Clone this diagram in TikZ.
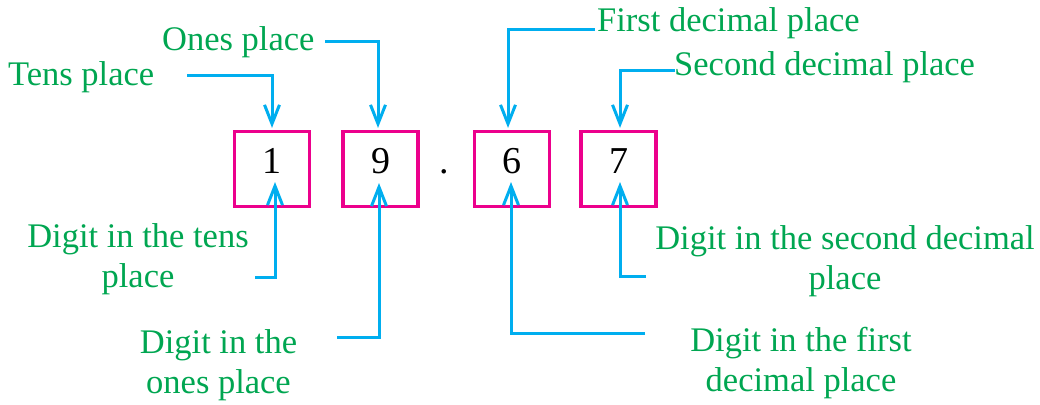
\documentclass[tikz,border=0pt]{standalone}
\usepackage{fontspec}
\setmainfont{Liberation Serif}
\usetikzlibrary{arrows.meta}
\definecolor{lblgreen}{RGB}{0,166,81}
\definecolor{arrcyan}{RGB}{0,174,239}
\definecolor{boxmag}{RGB}{236,0,140}
\begin{document}
\begin{tikzpicture}[x=1pt,y=-1pt,
  lbl/.style={text=lblgreen, font=\fontsize{34.5}{40}\selectfont, inner sep=0pt},
  digitbox/.style={draw=boxmag, line width=3.2pt, minimum width=75pt, minimum height=75pt,
    font=\fontsize{38}{40}\selectfont, text height=27pt, text depth=19pt, inner sep=0pt},
  arr/.style={draw=arrcyan, line width=3pt, -{Straight Barb[length=19pt,width=15pt]}}]
\useasboundingbox (0,0) rectangle (1040,404);

% boxes
\node[digitbox] (b1) at (272,169) {1};
\node[digitbox] (b2) at (380.5,169) {9};
\node[digitbox] (b3) at (512,169) {6};
\node[digitbox] (b4) at (618.5,169) {7};
\node[font=\fontsize{38}{40}\selectfont, anchor=base, inner sep=0pt] (dot) at (444,173) {.};

% top labels
\node[lbl, anchor=base west] (tens) at (8,85) {Tens place};
\node[lbl, anchor=base west] (ones) at (162,50) {Ones place};
\node[lbl, anchor=base west] (first) at (597,32) {First decimal place};
\node[lbl, anchor=base west] (second) at (674,75) {Second decimal place};

% bottom labels
\node[lbl, align=center] (dtens) at (138,259) {Digit in the tens\\place};
\node[lbl, align=center] (dones) at (218.5,365) {Digit in the\\ones place};
\node[lbl, align=center] (dfirst) at (801,363) {Digit in the first\\decimal place};
\node[lbl, align=center] (dsecond) at (845,261) {Digit in the second decimal\\place};

% free ends of connectors
\coordinate (ctens) at (187,75);
\coordinate (cones) at (325,42);
\coordinate (cfirst) at (595,30);
\coordinate (csecond) at (675,70);
\coordinate (cdtens) at (255,277);
\coordinate (cdones) at (337,337);
\coordinate (cdfirst) at (645,333);
\coordinate (cdsecond) at (646,276);

% connectors
\draw[arr] (ctens) -| ([yshift=2pt]b1.north);
\draw[arr] (cones) -| ([xshift=-2.5pt,yshift=2pt]b2.north);
\draw[arr] (cfirst) -| ([xshift=-4pt,yshift=2pt]b3.north);
\draw[arr] (csecond) -| ([xshift=1.5pt,yshift=2pt]b4.north);

\draw[arr] (cdtens) -| ([xshift=3pt,yshift=-13pt]b1.center);
\draw[arr] (cdones) -| ([xshift=-1.5pt,yshift=-14pt]b2.center);
\draw[arr] (cdfirst) -| ([xshift=-1pt,yshift=-13pt]b3.center);
\draw[arr] (cdsecond) -| ([xshift=1.5pt,yshift=-13pt]b4.center);
\end{tikzpicture}
\end{document}
